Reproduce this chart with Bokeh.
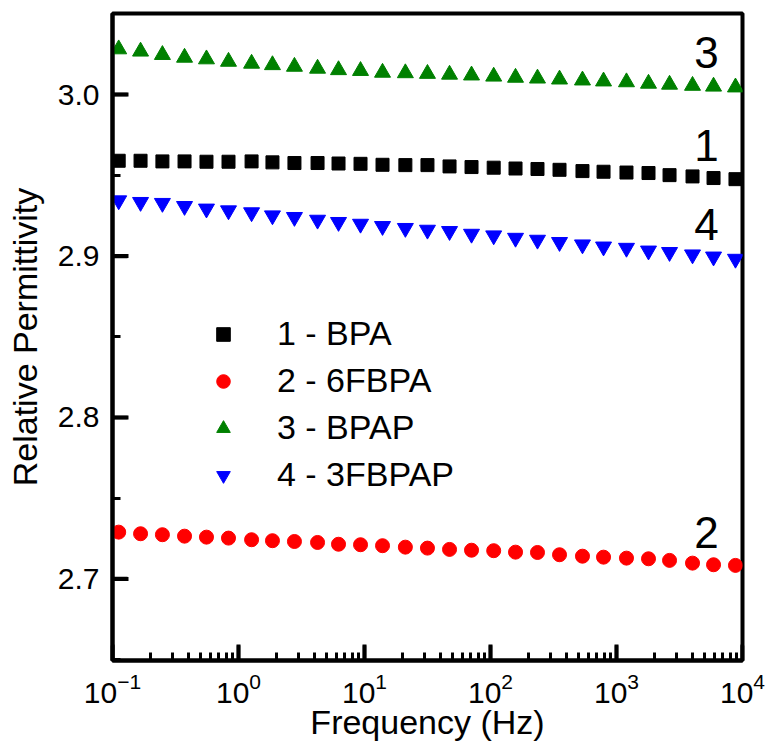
import math
from bokeh.plotting import figure
from bokeh.models import (LogTicker, FixedTicker, Legend, LegendItem, Label, Range1d,
                          PrintfTickFormatter)
from bokeh.embed import file_html
from bokeh.resources import INLINE

# ---- data ----
freq_hz = [0.112, 0.167, 0.249, 0.373, 0.557, 0.833, 1.27, 1.86, 2.78, 4.24,
           6.22, 9.30, 13.9, 21.1, 31.6, 47.3, 70.7, 106, 158, 236,
           353, 537, 789, 1200, 1795, 2636, 4012, 5891, 8796]

bpa = [2.9590, 2.9590, 2.9586, 2.9586, 2.9584, 2.9584, 2.9586, 2.9580, 2.9576, 2.9576,
       2.9573, 2.9571, 2.9565, 2.9563, 2.9563, 2.9555, 2.9551, 2.9547, 2.9542, 2.9539,
       2.9534, 2.9526, 2.9522, 2.9517, 2.9514, 2.9501, 2.9493, 2.9483, 2.9476]

fbpa6 = [2.7290, 2.7280, 2.7274, 2.7265, 2.7259, 2.7253, 2.7243, 2.7237, 2.7232, 2.7226,
         2.7215, 2.7212, 2.7206, 2.7197, 2.7191, 2.7183, 2.7178, 2.7175, 2.7166, 2.7164,
         2.7150, 2.7141, 2.7135, 2.7129, 2.7125, 2.7115, 2.7098, 2.7088, 2.7084]

bpap = [3.0281, 3.0267, 3.0246, 3.0229, 3.0219, 3.0204, 3.0192, 3.0183, 3.0173, 3.0161,
        3.0152, 3.0147, 3.0136, 3.0133, 3.0129, 3.0124, 3.0119, 3.0112, 3.0105, 3.0100,
        3.0094, 3.0088, 3.0082, 3.0077, 3.0068, 3.0062, 3.0055, 3.0050, 3.0045]

fbpap3 = [2.9344, 2.9334, 2.9328, 2.9309, 2.9293, 2.9282, 2.9270, 2.9251, 2.9241, 2.9224,
          2.9210, 2.9199, 2.9185, 2.9173, 2.9162, 2.9154, 2.9137, 2.9127, 2.9112, 2.9100,
          2.9086, 2.9071, 2.9058, 2.9050, 2.9033, 2.9024, 2.9009, 2.8996, 2.8982]

series_labels = ["1 - BPA", "2 - 6FBPA", "3 - BPAP", "4 - 3FBPAP"]
curve_tags = ["1", "2", "3", "4"]
x_major_ticks = [0.1, 1, 10, 100, 1000, 10000]
y_major_ticks = [2.7, 2.8, 2.9, 3.0]
y_minor_ticks = [2.65, 2.75, 2.85, 2.95, 3.05]

FONT = "Liberation Sans"

X0, X1 = 0.1, 1e4
Y0, Y1 = 2.6495, 3.0502

p = figure(width=766, height=747, x_axis_type="log",
           x_range=Range1d(X0, X1), y_range=Range1d(Y0, Y1),
           output_backend="svg", toolbar_location=None,
           min_border_left=112, min_border_right=24,
           min_border_top=13, min_border_bottom=87)

p.grid.visible = False
p.background_fill_color = "white"
p.border_fill_color = "white"
p.outline_line_color = "black"
p.outline_line_width = 4

# axes
p.xaxis.ticker = LogTicker(num_minor_ticks=10)
p.yaxis.ticker = FixedTicker(ticks=y_major_ticks, minor_ticks=y_minor_ticks)
p.yaxis.formatter = PrintfTickFormatter(format="%.1f")
for ax in (p.xaxis, p.yaxis):
    ax.axis_line_width = 4
    ax.axis_line_color = "black"
    ax.major_tick_in = 15
    ax.major_tick_out = 0
    ax.minor_tick_in = 8
    ax.minor_tick_out = 0
    ax.major_tick_line_width = 3.5
    ax.minor_tick_line_width = 3
    ax.major_tick_line_color = "black"
    ax.minor_tick_line_color = "black"
    ax.major_label_text_font = FONT
    ax.major_label_text_font_size = "30px"
    ax.major_label_text_color = "black"
    ax.axis_label_text_font = FONT
    ax.axis_label_text_font_size = "34px"
    ax.axis_label_text_font_style = "normal"
    ax.axis_label_text_color = "black"

p.xaxis.axis_label = "Frequency (Hz)"
p.yaxis.axis_label = "Relative Permittivity"
p.xaxis.major_label_standoff = 12
p.yaxis.major_label_standoff = 13
p.xaxis.axis_label_standoff = -3
p.yaxis.axis_label_standoff = 11

# inward major ticks drawn explicitly (screen-length rays from the frame edges)
p.ray(x=[X0] * len(y_major_ticks), y=y_major_ticks, length=16, length_units="screen",
      angle=0, line_width=4, line_color="black")
p.ray(x=x_major_ticks, y=[Y0] * len(x_major_ticks), length=16, length_units="screen",
      angle=math.pi / 2, line_width=4, line_color="black")

r1 = p.scatter(freq_hz, bpa, marker="square", size=13, color="black")
r2 = p.scatter(freq_hz, fbpa6, marker="circle", size=14, color="red")
r3 = p.scatter(freq_hz, bpap, marker="triangle", size=16, color="green")
r4 = p.scatter(freq_hz, fbpap3, marker="inverted_triangle", size=16, color="blue")

legend = Legend(items=[LegendItem(label=series_labels[i], renderers=[r])
                       for i, r in enumerate([r1, r2, r3, r4])],
                location=(94, 166), padding=0, margin=0, spacing=8,
                glyph_width=34, glyph_height=34, label_standoff=37,
                label_text_font=FONT, label_text_font_size="34px",
                label_text_color="black",
                border_line_color=None, background_fill_alpha=0)
p.add_layout(legend)

# curve number tags near the right end of each curve
tag_pos = [(5180, 2.9684), (5180, 2.7288), (5180, 3.0260), (5180, 2.9195)]
for t, (tx, ty) in zip(curve_tags, tag_pos):
    p.add_layout(Label(x=tx, y=ty, text=t, text_align="center",
                       text_baseline="middle", text_font=FONT,
                       text_font_size="44px", text_color="black"))

open("out.html", "w").write(file_html(p, INLINE))
